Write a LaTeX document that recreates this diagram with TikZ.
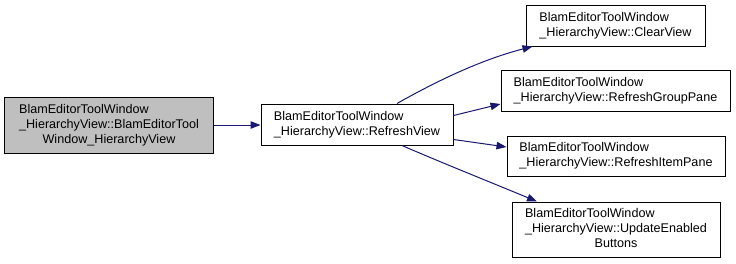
\documentclass[tikz,border=0pt]{standalone}
\usepackage{fontspec}
\setmainfont{Liberation Sans}
\usetikzlibrary{arrows.meta,calc}
\definecolor{edgeblue}{RGB}{25,25,112}
\newcommand{\lbl}[1]{\begin{tabular}{@{}l@{}}#1\end{tabular}}
\newcommand{\lastc}[1]{\multicolumn{1}{@{}c@{}}{#1}}
\begin{document}
\begin{tikzpicture}[x=1bp,y=-1bp,
  fn/.style={draw=black,line width=1bp,fill=white,inner sep=0pt,
    font=\fontsize{12.6bp}{15bp}\selectfont},
  cur/.style={fn,fill=black!25},
  edge/.style={draw=edgeblue,line width=1bp,
    -{Triangle[length=10bp,width=7.5bp]}}]
\useasboundingbox (0,0) rectangle (736,263);
\node[cur,minimum width=208bp,minimum height=56bp] (main) at (109,125)
  {\lbl{BlamEditorToolWindow\\ \_HierarchyView::BlamEditorTool\\ \lastc{Window\_HierarchyView}}};
\node[fn,minimum width=192bp,minimum height=41bp] (rv) at (357,124.5)
  {\lbl{BlamEditorToolWindow\\ \_HierarchyView::RefreshView}};
\node[fn,minimum width=179bp,minimum height=41bp] (cv) at (615.5,25.5)
  {\lbl{BlamEditorToolWindow\\ \_HierarchyView::ClearView}};
\node[fn,minimum width=229bp,minimum height=41bp] (rgp) at (615.5,91)
  {\lbl{BlamEditorToolWindow\\ \_HierarchyView::RefreshGroupPane}};
\node[fn,minimum width=218bp,minimum height=40bp] (rip) at (616,156)
  {\lbl{BlamEditorToolWindow\\ \_HierarchyView::RefreshItemPane}};
\node[fn,minimum width=208bp,minimum height=55bp] (ueb) at (616,229.5)
  {\lbl{BlamEditorToolWindow\\ \_HierarchyView::UpdateEnabled\\ \lastc{Buttons}}};
\path[edge] (main.east) -- (rv.west |- main.east);
\path[edge] ([xshift=40bp]rv.north) .. controls (435,82) and (480,60) .. ([xshift=-83bp]cv.south);
\path[edge] ([yshift=9bp]rv.east) -- ([yshift=-13bp]rgp.west);
\path[edge] ([yshift=-15bp]rv.east) -- ([yshift=9bp]rip.west);
\path[edge] ([xshift=45bp]rv.south) .. controls (440,162) and (490,182) .. ([xshift=-79bp]ueb.north);
\end{tikzpicture}
\end{document}
